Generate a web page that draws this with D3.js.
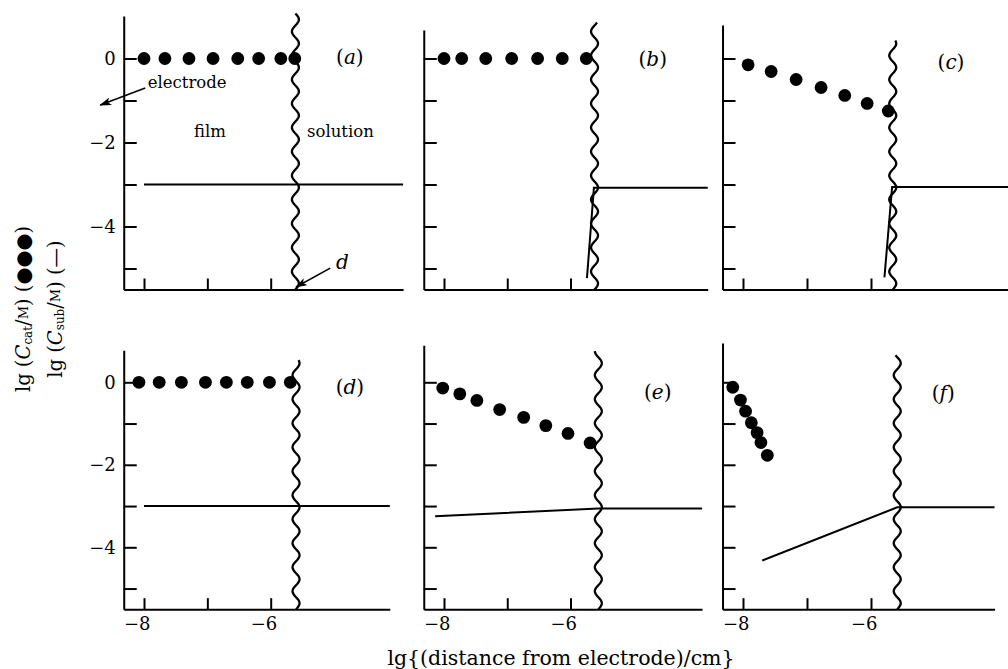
<!DOCTYPE html>
<html>
<head>
<meta charset="utf-8">
<script src="https://cdn.jsdelivr.net/npm/d3@7"></script>
<style>
    body { margin: 0; background: #fff; }
    text { font-family: "DejaVu Serif", serif; fill: #000; }
</style>
</head>
<body>
<svg id="chart" width="1008" height="669"></svg>
<script>
const panelNames = ["a", "b", "c", "d", "e", "f"];
const yTicks = [0, -1, -2, -3, -4, -5];
const yTickLabels = ["0", "", "\u22122", "", "\u22124", ""];
const xTicks = [-8, -7, -6];
const xTickLabels = ["\u22128", "", "\u22126"];

// lg(C_cat/M), dots
const catX = [
    [-8, -7.67, -7.29, -6.91, -6.52, -6.19, -5.84, -5.62],
    [-8, -7.72, -7.34, -6.93, -6.52, -6.13, -5.75],
    [-7.92, -7.56, -7.17, -6.78, -6.41, -6.06, -5.73],
    [-8.08, -7.76, -7.41, -7.03, -6.70, -6.37, -6.02, -5.69],
    [-8.02, -7.75, -7.48, -7.12, -6.74, -6.39, -6.04, -5.69],
    [-8.16, -8.04, -7.96, -7.87, -7.78, -7.72, -7.62]
];
const catY = [
    [0, 0, 0, 0, 0, 0, 0, 0],
    [0, 0, 0, 0, 0, 0, 0],
    [-0.15, -0.31, -0.50, -0.69, -0.88, -1.07, -1.25],
    [0, 0, 0, 0, 0, 0, 0, 0],
    [-0.14, -0.28, -0.44, -0.66, -0.85, -1.05, -1.24, -1.47],
    [-0.12, -0.43, -0.70, -0.98, -1.22, -1.46, -1.77]
];

// lg(C_sub/M), solid line
const subX = [
    [-8, -3.91],
    [-5.74, -5.63, -3.83],
    [-5.79, -5.67, -3.86],
    [-8, -4.12],
    [-8.14, -5.56, -3.92],
    [-7.70, -5.59, -4.07]
];
const subY = [
    [-3, -3],
    [-5.23, -3.08, -3.08],
    [-5.21, -3.06, -3.06],
    [-3, -3],
    [-3.25, -3.06, -3.06],
    [-4.32, -3.03, -3.03]
];

// film | solution boundary
const boundaryX = [-5.61, -5.62, -5.66, -5.60, -5.56, -5.59];
const boundaryTop = [1.08, 0.85, 0.44, 0.53, 0.75, 0.65];

// axis extents
const xMin = -8.32;
const xMax = [-3.91, -3.83, -3.86, -4.12, -3.92, -4.07];
const yMin = -5.5;
const yMax = [1.01, 0.68, 0.8, 0.78, 0.9, 0.95];

// pixel layout of columns / rows
const colX8 = [144, 444, 743], colX6 = [270.7, 570.5, 871];
const rowY0 = [58.5, 382.3], rowY4 = [226.5, 547.3];
const panelLabelPos = [[-4.75, 0.04], [-4.7, -0.01], [-4.75, -0.08], [-4.75, -0.11], [-4.62, -0.23], [-4.87, -0.26]];

const svg = d3.select("#chart");

const defs = svg.append("defs");
defs.append("marker")
    .attr("id", "head")
    .attr("viewBox", "0 0 12 8")
    .attr("refX", 11)
    .attr("refY", 4)
    .attr("markerWidth", 12)
    .attr("markerHeight", 8)
    .attr("markerUnits", "userSpaceOnUse")
    .attr("orient", "auto")
    .append("path")
    .attr("d", "M0,0 L12,4 L0,8 L3,4 Z")
    .attr("fill", "#000");

const wavy = (x0, yTop, yBot) => {
    const amp = 3.5, period = 24;
    const pts = d3.range(yBot, yTop - 0.5, -1).map(v => [x0 + amp * Math.sin(2 * Math.PI * (yBot - v) / period), v]);
    return d3.line()(pts);
};

const drawPanel = (i) => {
    const col = i % 3, row = Math.floor(i / 3);
    const xb = d3.scaleLinear().domain([-8, -6]).range([colX8[col], colX6[col]]);
    const yb = d3.scaleLinear().domain([0, -4]).range([rowY0[row], rowY4[row]]);
    const x = d3.scaleLinear().domain([xMin, xMax[i]]).range([xb(xMin), xb(xMax[i])]);
    const y = d3.scaleLinear().domain([yMin, yMax[i]]).range([yb(yMin), yb(yMax[i])]);

    const g = svg.append("g");

    const yAxis = g.append("g")
        .attr("transform", `translate(${x(xMin)},0)`)
        .call(d3.axisLeft(y)
            .tickValues(yTicks)
            .tickSizeInner(-13)
            .tickSizeOuter(0)
            .tickPadding(8)
            .tickFormat((d, k) => col === 0 ? yTickLabels[k] : ""));

    const xAxis = g.append("g")
        .attr("transform", `translate(0,${y(yMin)})`)
        .call(d3.axisBottom(x)
            .tickValues(xTicks)
            .tickSizeInner(-11)
            .tickSizeOuter(0)
            .tickPadding(8)
            .tickFormat((d, k) => row === 1 ? xTickLabels[k] : ""));

    [yAxis, xAxis].forEach(a => {
        a.selectAll("path, line").attr("stroke", "#000").attr("stroke-width", 2);
        a.selectAll("text")
         .attr("font-family", "DejaVu Serif, serif")
         .attr("font-size", 18)
         .attr("fill", "#000");
    });
    xAxis.selectAll("text").attr("text-anchor", "end").attr("x", 6);

    // substrate concentration
    const pts = subX[i].map((v, k) => [v, subY[i][k]]);
    g.append("path")
     .attr("d", d3.line().x(d => x(d[0])).y(d => y(d[1]))(pts))
     .attr("fill", "none")
     .attr("stroke", "#000")
     .attr("stroke-width", 2);

    // boundary
    g.append("path")
     .attr("d", wavy(x(boundaryX[i]), y(boundaryTop[i]), y(yMin)))
     .attr("fill", "none")
     .attr("stroke", "#000")
     .attr("stroke-width", 2.3);

    // catalyst concentration
    g.selectAll("circle")
     .data(catX[i])
     .enter()
     .append("circle")
     .attr("cx", d => x(d))
     .attr("cy", (d, k) => y(catY[i][k]))
     .attr("r", 6.4)
     .attr("fill", "#000");

    const lab = g.append("text")
        .attr("x", x(panelLabelPos[i][0]))
        .attr("y", y(panelLabelPos[i][1]))
        .attr("text-anchor", "middle")
        .attr("dominant-baseline", "central")
        .attr("font-size", 20);
    lab.append("tspan").text("(");
    lab.append("tspan").attr("font-style", "italic").text(panelNames[i]);
    lab.append("tspan").text(")");

    if (i === 0) {
        g.append("text").attr("x", x(-7.94)).attr("y", y(-0.56))
         .attr("dominant-baseline", "central").attr("font-size", 16.5).text("electrode");
        g.append("line")
         .attr("x1", x(-7.98)).attr("y1", y(-0.70))
         .attr("x2", x(-8.69)).attr("y2", y(-1.11))
         .attr("stroke", "#000").attr("stroke-width", 1.6)
         .attr("marker-end", "url(#head)");
        g.append("text").attr("x", x(-6.96)).attr("y", y(-1.73))
         .attr("text-anchor", "middle").attr("dominant-baseline", "central")
         .attr("font-size", 16.5).text("film");
        g.append("text").attr("x", x(-4.9)).attr("y", y(-1.73))
         .attr("text-anchor", "middle").attr("dominant-baseline", "central")
         .attr("font-size", 16.5).text("solution");
        g.append("text").attr("x", x(-4.87)).attr("y", y(-4.85))
         .attr("text-anchor", "middle").attr("dominant-baseline", "central")
         .attr("font-size", 20).attr("font-style", "italic").text("d");
        g.append("line")
         .attr("x1", x(-5.06)).attr("y1", y(-4.99))
         .attr("x2", x(-5.6)).attr("y2", y(-5.44))
         .attr("stroke", "#000").attr("stroke-width", 1.6)
         .attr("marker-end", "url(#head)");
    }
};

panelNames.forEach((_, i) => drawPanel(i));

// axis titles
svg.append("text")
   .attr("x", 561)
   .attr("y", 665)
   .attr("text-anchor", "middle")
   .attr("font-size", 20.5)
   .text("lg{(distance from electrode)/cm}");

const yTitle = (cx, sub, mark) => {
    const t = svg.append("text")
        .attr("transform", `translate(${cx},309) rotate(-90)`)
        .attr("text-anchor", "middle")
        .attr("dominant-baseline", "central")
        .attr("font-size", 19.5);
    t.append("tspan").text("lg (");
    t.append("tspan").attr("font-style", "italic").text("C");
    t.append("tspan").attr("font-size", 12).attr("dy", 5).text(sub);
    t.append("tspan").attr("dy", -5).text("/");
    t.append("tspan").attr("font-size", 13).text("M");
    t.append("tspan").text(") (" + mark + ")");
};
yTitle(23, "cat", "\u25CF\u25CF\u25CF");
yTitle(55, "sub", "\u2014");
</script>
</body>
</html>
